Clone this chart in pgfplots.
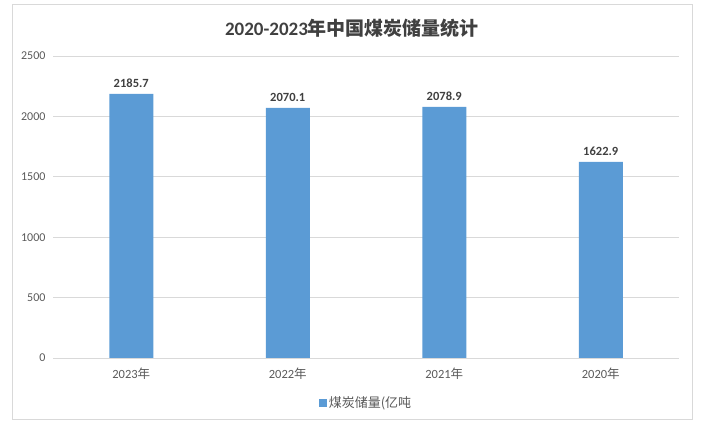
\documentclass[border=0pt]{standalone}
\usepackage{fontspec}
\setmainfont{Carlito}
\newfontfamily\cjk{Noto Sans CJK SC}
\usepackage{pgfplots}
\pgfplotsset{compat=1.18}
\definecolor{barblue}{HTML}{5B9BD5}
\definecolor{gridgray}{HTML}{D9D9D9}
\definecolor{txtgray}{HTML}{595959}
\definecolor{lbl}{HTML}{404040}
\begin{document}
\begin{tikzpicture}[x=1pt,y=1pt]
\path[use as bounding box] (0,0) rectangle (702,431);
\draw[color=gridgray,line width=1pt] (12,11) rectangle (692,426);
\node[font=\fontsize{19}{21}\selectfont\bfseries, text=lbl] at (352,403) {2020-2023\cjk{年中国煤炭储量统计}};
\begin{axis}[
  at={(53pt,73pt)}, anchor=south west,
  scale only axis, width=626pt, height=302pt,
  xmin=-0.5, xmax=3.5, ymin=0, ymax=2500,
  ytick={0,500,...,2500},
  xtick=data,
  xticklabels={2023\cjk{年},2022\cjk{年},2021\cjk{年},2020\cjk{年}},
  axis line style={draw=none},
  axis x line*=bottom,
  x axis line style={draw=gridgray, line width=0.8pt},
  ymajorgrids, grid style={gridgray, line width=0.8pt},
  major tick length=0pt,
  tick label style={font=\fontsize{12.5}{14}\selectfont, text=txtgray},
  /pgf/number format/assume math mode=true,
  yticklabel style={/pgf/number format/1000 sep={}, xshift=-4pt, font=\fontsize{12}{14}\selectfont},
  xticklabel style={yshift=-6pt},
  ybar, bar width=44pt,
  nodes near coords,
  every node near coord/.append style={font=\fontsize{12.5}{14}\selectfont\bfseries, text=lbl, yshift=3pt,
     /pgf/number format/.cd, fixed, fixed zerofill, precision=1, 1000 sep={}, assume math mode=true},
  legend style={at={(0.5,-0.149)}, anchor=center, draw=none, font=\fontsize{13}{15}\selectfont, text=txtgray},
  legend image code/.code={\fill[barblue] (0pt,-4pt) rectangle (8pt,4pt);},
]
\addplot[fill=barblue, draw=none] coordinates {(0,2185.7) (1,2070.1) (2,2078.9) (3,1622.9)};
\addlegendentry{\cjk{煤炭储量(亿吨}}
\end{axis}
\end{tikzpicture}
\end{document}
